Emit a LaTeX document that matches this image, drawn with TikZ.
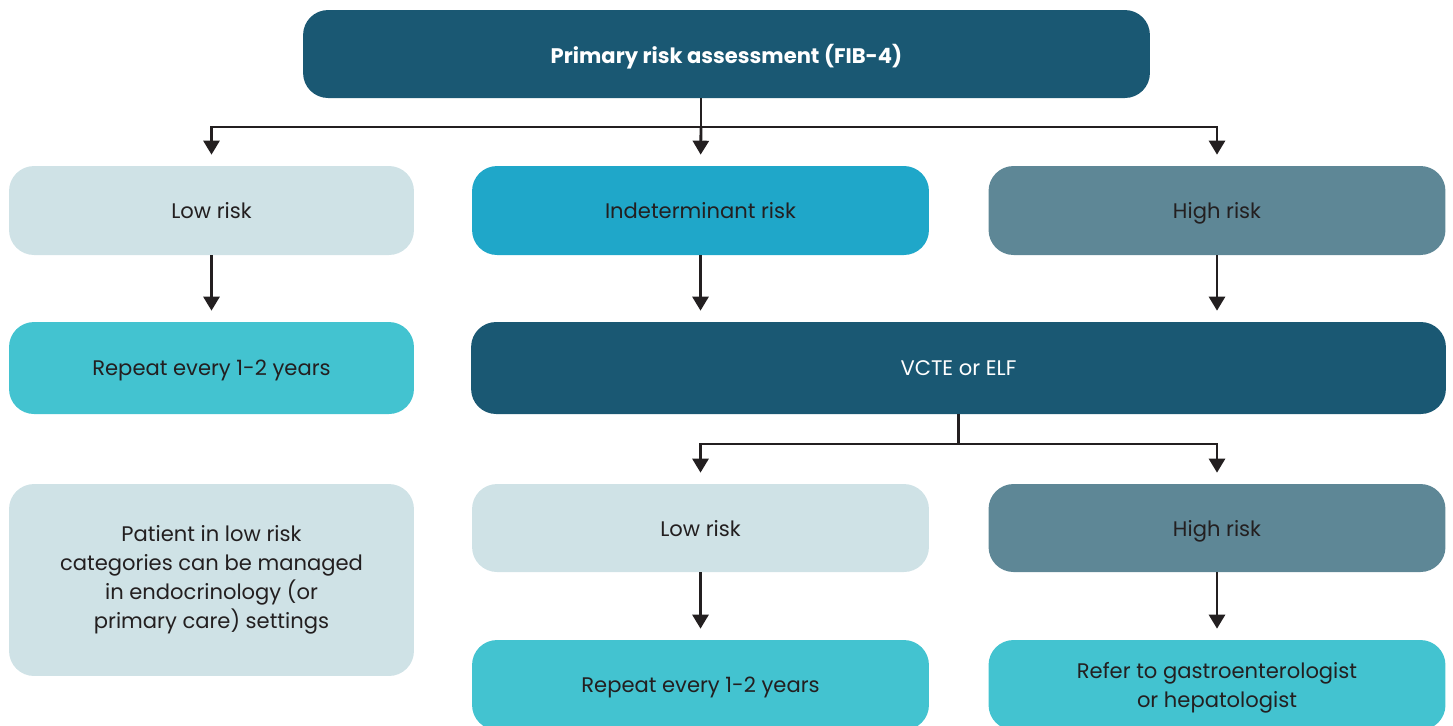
\documentclass[tikz,border=0pt]{standalone}
\usepackage{fontspec}
\setmainfont{Poppins}
\usetikzlibrary{arrows.meta, positioning, calc}
\usepackage{xcolor}
\definecolor{deepteal}{RGB}{26,88,115}
\definecolor{palegrey}{RGB}{207,226,230}
\definecolor{skyblue}{RGB}{31,167,201}
\definecolor{slateblue}{RGB}{94,135,150}
\definecolor{brightcyan}{RGB}{67,195,208}
\definecolor{inkdark}{RGB}{35,31,32}

\tikzset{
  box/.style={rounded corners=0.5cm, align=center, inner sep=0pt,
    font=\fontsize{12}{16.5}\selectfont, text=inkdark, text depth=0pt},
  darkbox/.style={box, fill=deepteal, text=white},
  lightbox/.style={box, fill=palegrey},
  midbox/.style={box, fill=skyblue},
  greybox/.style={box, fill=slateblue},
  cyanbox/.style={box, fill=brightcyan},
  narrow/.style={minimum width=8.1cm},
  wide/.style={minimum width=9.14cm},
  link/.style={line width=1.6pt, draw=inkdark},
  arr/.style={link, -{Triangle[width=0.32cm, length=0.28cm]}, shorten >=0.22cm}
}

\begin{document}
\begin{tikzpicture}[x=0.02cm, y=-0.02cm]
  \useasboundingbox (0,0) rectangle (1453,725);
  % first row
  \node[darkbox, minimum width=16.94cm, minimum height=1.76cm, font=\fontsize{12}{16.5}\selectfont\bfseries]
    (fib) at (726.5,54) {Primary risk assessment (FIB-4)};
  \node[lightbox, narrow, minimum height=1.78cm] (low) at (211.5,210.5) {Low risk};
  \node[midbox, wide, minimum height=1.78cm] (indet) at (700.5,210.5) {Indeterminant risk};
  \node[greybox, wide, minimum height=1.78cm] (high) at (1217,210.5) {High risk};
  % second row
  \node[cyanbox, narrow, minimum height=1.84cm] (repeatA) at (211.5,368) {Repeat every 1-2 years};
  \node[darkbox, minimum width=19.5cm, minimum height=1.84cm] (vcte) at (958.5,368) {VCTE or ELF};
  % third row
  \node[lightbox, narrow, minimum height=3.84cm] (patient) at (211.5,580) {};
  \node[box] (patienttext) at ([yshift=0.06cm]patient.center)
    {Patient in low risk\\categories can be managed\\in endocrinology (or\\primary care) settings};
  \node[lightbox, wide, minimum height=1.76cm] (lowB) at (700.5,528) {Low risk};
  \node[greybox, wide, minimum height=1.76cm] (highB) at (1217,528) {High risk};
  % last row
  \node[cyanbox, wide, minimum height=1.8cm] (repeatB) at (700.5,685) {Repeat every 1-2 years};
  \node[cyanbox, wide, minimum height=1.8cm] (refer) at (1217,685) {Refer to gastroenterologist\\or hepatologist};

  % connectors
  \coordinate (splitA) at (701,127);
  \draw[link] (fib.south -| splitA) -- (splitA);
  \draw[arr] (splitA) -| (low.north);
  \draw[arr] (splitA) -| (high.north);
  \draw[arr] (splitA) -- (indet.north);
  \draw[arr] (low) -- (repeatA);
  \draw[arr] (indet.south) -- (indet.south |- vcte.north);
  \draw[arr] (high.south) -- (high.south |- vcte.north);
  \coordinate (splitB) at (958.5,444);
  \draw[link] (vcte.south -| splitB) -- (splitB);
  \draw[arr] (splitB) -| (lowB.north);
  \draw[arr] (splitB) -| (highB.north);
  \draw[arr] (lowB) -- (repeatB);
  \draw[arr] (highB) -- (refer);
\end{tikzpicture}
\end{document}
